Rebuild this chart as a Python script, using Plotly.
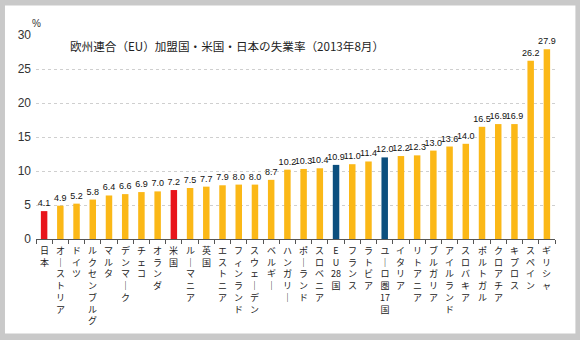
import re
import plotly.graph_objects as go

categories = ["日本", "オーストリア", "ドイツ", "ルクセンブルグ", "マルタ", "デンマーク", "チェコ",
              "オランダ", "米国", "ルーマニア", "英国", "エストニア", "フィンランド", "スウェーデン",
              "ベルギー", "ハンガリー", "ポーランド", "スロベニア", "EU28国", "フランス", "ラトビア",
              "ユーロ圏17国", "イタリア", "リトアニア", "ブルガリア", "アイルランド", "スロバキア",
              "ポルトガル", "クロアチア", "キプロス", "スペイン", "ギリシャ"]
values = [4.1, 4.9, 5.2, 5.8, 6.4, 6.6, 6.9, 7.0, 7.2, 7.5, 7.7, 7.9, 8.0, 8.0, 8.7,
          10.2, 10.3, 10.4, 10.9, 11.0, 11.4, 12.0, 12.2, 12.3, 13.0, 13.6, 14.0,
          16.5, 16.9, 16.9, 26.2, 27.9]
y_ticks = [0, 5, 10, 15, 20, 25, 30]
title_text = "欧州連合（EU）加盟国・米国・日本の失業率（2013年8月）"

ORANGE = "#FBB817"
RED = "#E8141B"
BLUE = "#0C4F7E"
colors = []
for c in categories:
    if c in ("日本", "米国"):
        colors.append(RED)
    elif c in ("EU28国", "ユーロ圏17国"):
        colors.append(BLUE)
    else:
        colors.append(ORANGE)

CJK = "Noto Sans CJK JP"
NUM = "Liberation Sans, Arial, sans-serif"
NARROW = "Liberation Sans Narrow, Liberation Sans, Arial, sans-serif"

fig = go.Figure()
fig.add_trace(go.Bar(
    x=categories, y=values, marker=dict(color=colors, line=dict(width=0)),
    width=0.4,
    text=[f"{v:.1f}" for v in values], textposition="outside",
    textfont=dict(family=NARROW, size=9, color="#111"),
    constraintext="none", cliponaxis=False, hoverinfo="skip",
))

L, R, T, B = 36, 25.4, 34.7, 100.7
W, H = 580, 340
pw = W - L - R
ph = H - T - B

def px_to_paper_x(px):
    return (px - L) / pw

def px_to_paper_y(py):
    return (H - B - py) / ph

shapes = [dict(type="rect", xref="paper", yref="paper", layer="below",
               x0=px_to_paper_x(5), x1=px_to_paper_x(575),
               y0=px_to_paper_y(334), y1=px_to_paper_y(5),
               fillcolor="white", line=dict(width=0))]

annotations = []
for c in categories:
    tokens = [t.replace("ー", "｜") for t in re.findall(r"\d+|.", c)]
    annotations.append(dict(
        x=c, y=0, xref="x", yref="y", text="<br>".join(tokens), showarrow=False,
        xanchor="center", yanchor="top", yshift=-4, align="center",
        font=dict(family=CJK, size=9, color="#222"), borderpad=0,
    ))

annotations.append(dict(x=px_to_paper_x(68), y=px_to_paper_y(46), xref="paper", yref="paper",
                        text=title_text, showarrow=False, xanchor="left", yanchor="middle",
                        font=dict(family=CJK, size=11.6, color="#222")))
annotations.append(dict(x=px_to_paper_x(36), y=px_to_paper_y(23), xref="paper", yref="paper",
                        text="%", showarrow=False, xanchor="center", yanchor="middle",
                        font=dict(family=NUM, size=10, color="#333")))

fig.update_layout(
    width=W, height=H, margin=dict(l=L, r=R, t=T, b=B, pad=0),
    paper_bgcolor="#C9C9C9", plot_bgcolor="rgba(0,0,0,0)",
    showlegend=False, shapes=shapes, annotations=annotations,
    bargap=0.6,
    xaxis=dict(type="category", range=[-0.5, len(categories) - 0.5], showticklabels=False,
               showline=True, linecolor="#555", linewidth=1, ticks="outside", tickson="boundaries",
               ticklen=4, tickcolor="#555", showgrid=False, fixedrange=True),
    yaxis=dict(range=[0, 30], tickvals=y_ticks, showgrid=True, gridcolor="#CFCFCF", griddash="dot",
               gridwidth=1, zeroline=False, showline=False, ticks="", ticklabelstandoff=4,
               tickfont=dict(family=NUM, size=12, color="#333"), fixedrange=True),
)

fig.write_html("out.html")
